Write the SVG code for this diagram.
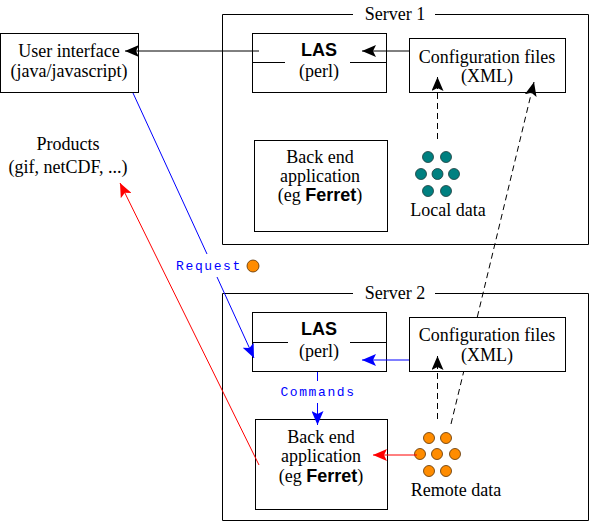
<svg xmlns="http://www.w3.org/2000/svg" width="590" height="522" viewBox="0 0 590 522">
<defs>
<style>
.box{fill:#fff;stroke:#000;stroke-width:1}
.frame{fill:none;stroke:#000;stroke-width:1}
.t{font-family:"Liberation Serif","Times New Roman",serif;font-size:18px;text-anchor:middle;fill:#000}
.b{font-family:"Liberation Sans",Arial,sans-serif;font-weight:bold}
.m{font-family:"Liberation Mono","Courier New",monospace;font-size:13px;letter-spacing:1.6px;text-anchor:middle;fill:#0000ff}
.k{stroke:#000;stroke-width:1;fill:none}
.d{stroke:#000;stroke-width:1;fill:none;stroke-dasharray:6 4}
.bl{stroke:#0000ff;stroke-width:1;fill:none}
.rd{stroke:#ff0000;stroke-width:1;fill:none}
.teal{fill:#008080;stroke:#1a3a3a;stroke-width:0.8}
.orange{fill:#ff8c00;stroke:#5a3000;stroke-width:0.8}
</style>
<marker id="ak" markerUnits="userSpaceOnUse" markerWidth="14" markerHeight="12" refX="14" refY="6" orient="auto"><path d="M0,0 L14,6 L0,12 L3,6 z" fill="#000"/></marker>
<marker id="ab" markerUnits="userSpaceOnUse" markerWidth="14" markerHeight="12" refX="14" refY="6" orient="auto"><path d="M0,0 L14,6 L0,12 L3,6 z" fill="#0000ff"/></marker>
<marker id="ar" markerUnits="userSpaceOnUse" markerWidth="14" markerHeight="12" refX="14" refY="6" orient="auto"><path d="M0,0 L14,6 L0,12 L3,6 z" fill="#ff0000"/></marker>
</defs>
<rect width="590" height="522" fill="#fff"/>

<g id="server1">
<path class="frame" d="M353,14.5 H222.5 V244.5 H588.5 V14.5 H435"/>
<text class="t" x="395" y="20">Server 1</text>
</g>
<g id="server2">
<path class="frame" d="M353,293.5 H222.5 V520.5 H588.5 V293.5 H435"/>
<text class="t" x="395" y="299">Server 2</text>
</g>

<g id="user-interface">
<rect class="box" x="0.5" y="33.5" width="138" height="59"/>
<text class="t" x="69" y="57">User interface</text>
<text class="t" x="69" y="77">(java/javascript)</text>
</g>

<g id="products">
<text class="t" x="68" y="150">Products</text>
<text class="t" x="68" y="173">(gif, netCDF, ...)</text>
</g>

<g id="las1">
<rect class="box" x="252.5" y="33.5" width="134" height="59"/>
<path class="k" d="M252.5,62.5 H285 M350,62.5 H386.5"/>
<text class="t b" x="319" y="56" font-size="19">LAS</text>
<text class="t" x="319" y="77">(perl)</text>
</g>

<g id="config1">
<rect class="box" x="409.5" y="38.5" width="156" height="54"/>
<text class="t" x="487" y="63">Configuration files</text>
<text class="t" x="487" y="82">(XML)</text>
</g>

<g id="backend1">
<rect class="box" x="254.5" y="140.5" width="133" height="91"/>
<text class="t" x="320" y="163">Back end</text>
<text class="t" x="320" y="182">application</text>
<text class="t" x="320" y="201">(eg <tspan class="b">Ferret</tspan>)</text>
</g>

<g id="local-data">
<circle class="teal" cx="428" cy="157" r="5.5"/>
<circle class="teal" cx="446" cy="157" r="5.5"/>
<circle class="teal" cx="421" cy="174" r="5.5"/>
<circle class="teal" cx="437.5" cy="174" r="5.5"/>
<circle class="teal" cx="454" cy="174" r="5.5"/>
<circle class="teal" cx="428" cy="191" r="5.5"/>
<circle class="teal" cx="446" cy="191" r="5.5"/>
<text class="t" x="448" y="216">Local data</text>
</g>

<g id="las2">
<rect class="box" x="252.5" y="312.5" width="134" height="59"/>
<path class="k" d="M252.5,342.5 H288 M350,342.5 H386.5"/>
<text class="t b" x="319" y="335" font-size="19">LAS</text>
<text class="t" x="319" y="357">(perl)</text>
</g>

<g id="config2">
<rect class="box" x="409.5" y="317.5" width="156" height="54"/>
<text class="t" x="487" y="341">Configuration files</text>
<text class="t" x="487" y="361">(XML)</text>
</g>

<g id="backend2">
<rect class="box" x="255.5" y="419.5" width="132" height="90"/>
<text class="t" x="321" y="443">Back end</text>
<text class="t" x="321" y="462">application</text>
<text class="t" x="321" y="482">(eg <tspan class="b">Ferret</tspan>)</text>
</g>

<g id="remote-data">
<circle class="orange" cx="429" cy="438" r="5.5"/>
<circle class="orange" cx="446" cy="438" r="5.5"/>
<circle class="orange" cx="420" cy="454" r="5.5"/>
<circle class="orange" cx="437" cy="454" r="5.5"/>
<circle class="orange" cx="455" cy="454" r="5.5"/>
<circle class="orange" cx="429" cy="471" r="5.5"/>
<circle class="orange" cx="446" cy="471" r="5.5"/>
<text class="t" x="456" y="496">Remote data</text>
</g>

<g id="connectors">
<line class="k" x1="259" y1="51" x2="125" y2="51" marker-end="url(#ak)"/>
<line class="k" x1="409" y1="51" x2="362" y2="51" marker-end="url(#ak)"/>
<line class="d" x1="437.5" y1="139" x2="437.5" y2="77" marker-end="url(#ak)"/>
<line class="d" x1="451" y1="424" x2="463.6" y2="372"/>
<line class="d" x1="477.3" y1="317" x2="534" y2="82" marker-end="url(#ak)"/>
<line class="d" x1="437.5" y1="419" x2="437.5" y2="356" marker-end="url(#ak)"/>
<line class="bl" x1="133" y1="93" x2="207" y2="254"/>
<line class="bl" x1="217" y1="277" x2="254" y2="358" marker-end="url(#ab)"/>
<line class="bl" x1="409" y1="360" x2="362" y2="360" marker-end="url(#ab)"/>
<line class="bl" x1="317.5" y1="372" x2="317.5" y2="381"/>
<line class="bl" x1="317.5" y1="403" x2="317.5" y2="425" marker-end="url(#ab)"/>
<line class="rd" x1="417" y1="455" x2="373" y2="455" marker-end="url(#ar)"/>
<line class="rd" x1="259" y1="465" x2="120" y2="183" marker-end="url(#ar)"/>
<text class="m" x="209" y="270">Request</text>
<circle class="orange" cx="253" cy="266" r="6"/>
<text class="m" x="318" y="396">Commands</text>
</g>
</svg>
